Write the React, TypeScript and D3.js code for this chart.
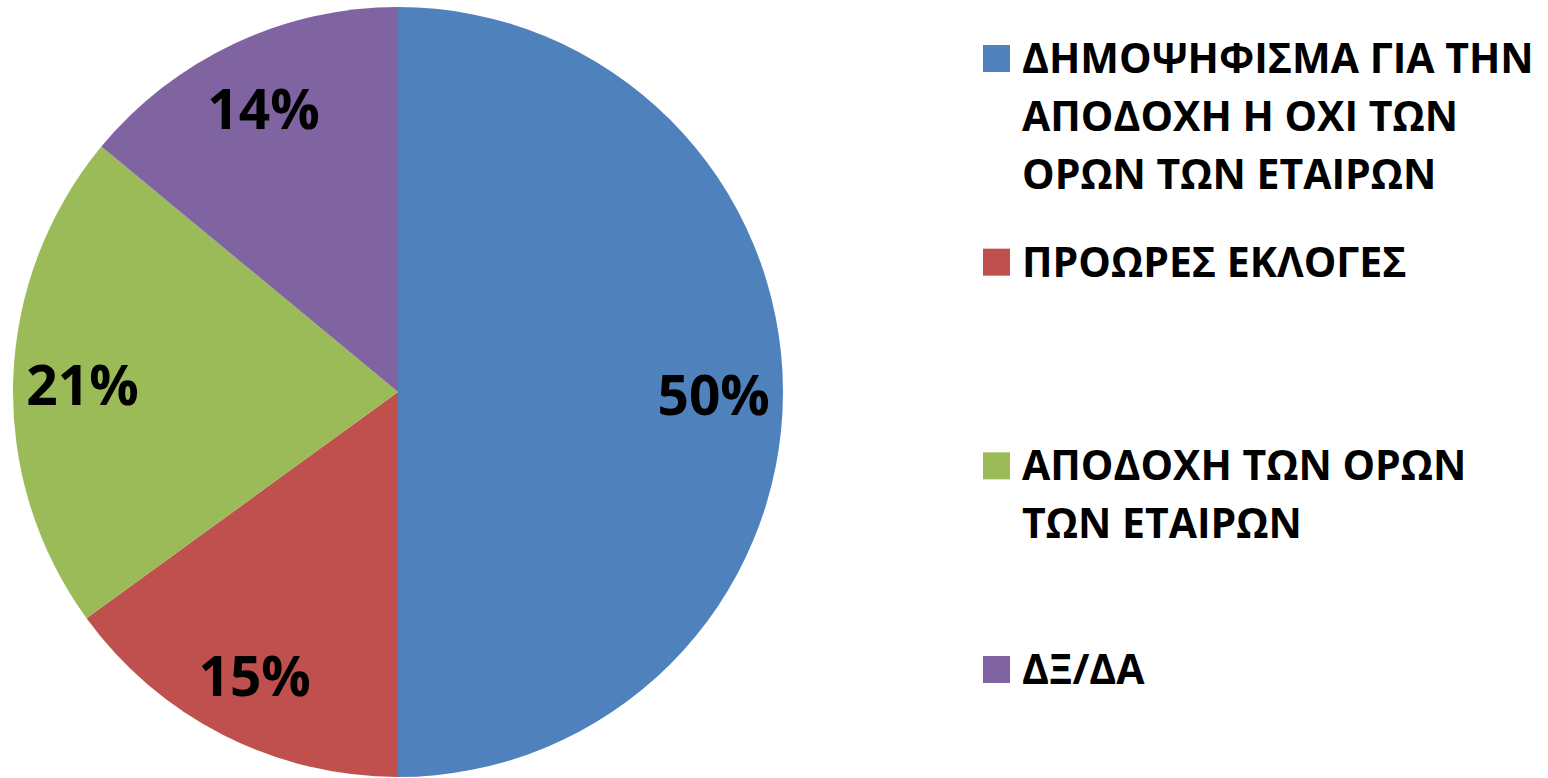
import * as d3 from 'd3';

const categories = [
  'ΔΗΜΟΨΗΦΙΣΜΑ ΓΙΑ ΤΗΝ\nΑΠΟΔΟΧΗ Η ΟΧΙ ΤΩΝ\nΟΡΩΝ ΤΩΝ ΕΤΑΙΡΩΝ',
  'ΠΡΟΩΡΕΣ ΕΚΛΟΓΕΣ',
  'ΑΠΟΔΟΧΗ ΤΩΝ ΟΡΩΝ\nΤΩΝ ΕΤΑΙΡΩΝ',
  'ΔΞ/ΔΑ',
];
const values = [50, 15, 21, 14];
const colors = ['#4F81BD', '#C0504D', '#9BBB59', '#8064A2'];

const width = 1548;
const height = 778;
const cx = 398;
const cy = 392;
const radius = 385;
const font = "'Open Sans', 'DejaVu Sans', sans-serif";

export default function App() {
  const pie = d3.pie<number>().sort(null).value(d => d);
  const arcs = pie(values);
  const arc = d3.arc<d3.PieArcDatum<number>>().innerRadius(0).outerRadius(radius);
  const labelArc = d3.arc<d3.PieArcDatum<number>>().innerRadius(radius * 0.82).outerRadius(radius * 0.82);
  const total = d3.sum(values);

  // legend entries are top-aligned in equal slots
  const legendY = d3.scaleLinear().domain([0, categories.length - 1]).range([73, 684]);
  const lineHeight = 58;

  return (
    <svg width={width} height={height} style={{ position: 'absolute', left: 0, top: 0 }}>
      <rect width={width} height={height} fill="#ffffff" />
      <g transform={`translate(${cx},${cy})`}>
        {arcs.map((a, i) => (
          <path key={i} d={arc(a) || ''} fill={colors[i]} />
        ))}
        {arcs.map((a, i) => {
          const [x, y] = labelArc.centroid(a);
          return (
            <text key={i} x={x} y={y + 23} textAnchor="middle" fontFamily={font} fontWeight="bold" fontSize={55} fill="#000">
              {`${Math.round((a.data / total) * 100)}%`}
            </text>
          );
        })}
      </g>
      <g>
        {categories.map((c, i) => {
          const y0 = legendY(i);
          return (
            <g key={i}>
              <rect x={983} y={y0 - 28} width={27} height={27} fill={colors[i]} />
              <text fontFamily={font} fontWeight="bold" fontSize={41} fill="#000">
                {c.split('\n').map((line, j) => (
                  <tspan key={j} x={1022} y={y0 + j * lineHeight}>{line}</tspan>
                ))}
              </text>
            </g>
          );
        })}
      </g>
    </svg>
  );
}
